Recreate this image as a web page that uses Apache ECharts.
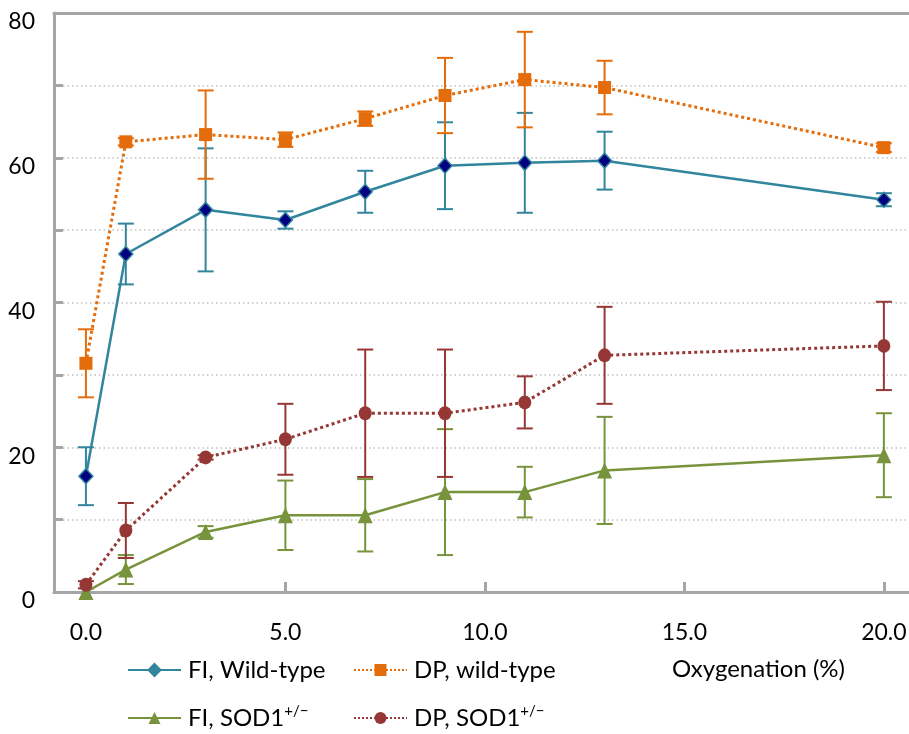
<!DOCTYPE html>
<html>
<head>
<meta charset="utf-8">
<title>Oxygenation response</title>
<script src="https://cdn.jsdelivr.net/npm/echarts@6/dist/echarts.min.js"></script>
<style>
  html, body { margin: 0; padding: 0; background: #fff; }
  #chart { width: 909px; height: 734px; }
</style>
</head>
<body>
<div id="chart"></div>
<script>
// Oxygenation levels (%) at which each group was measured
const oxygen = [0, 1, 3, 5, 7, 9, 11, 13, 20];

// Means and ± error for each group
const fiWild    = [16.0, 46.7, 52.8, 51.4, 55.3, 58.9, 59.3, 59.6, 54.2];
const fiWildErr = [4.0, 4.2, 8.5, 1.2, 2.9, 6.0, 6.9, 4.0, 0.9];

const dpWild    = [31.6, 62.2, 63.2, 62.5, 65.4, 68.6, 70.8, 69.7, 61.4];
const dpWildErr = [4.7, 0.5, 6.1, 1.0, 1.0, 5.2, 6.6, 3.7, 0.6];

const fiSod     = [0.0, 3.1, 8.3, 10.6, 10.6, 13.8, 13.8, 16.8, 18.9];
const fiSodErr  = [0, 2.0, 0.8, 4.8, 5.0, 8.7, 3.5, 7.4, 5.8];

const dpSod     = [1.0, 8.5, 18.6, 21.1, 24.7, 24.7, 26.2, 32.7, 34.0];
const dpSodErr  = [0.5, 3.8, 0.3, 4.9, 8.8, 8.8, 3.6, 6.7, 6.1];

// Axis ticks and labels
const xTicks = [0, 5, 10, 15, 20];
const yLabels = [0, 20, 40, 60, 80];

const SERIES_NAMES = {
  fiWild: 'FI, Wild-type',
  dpWild: 'DP, wild-type',
  fiSod: 'FI, SOD1+/−',
  dpSod: 'DP, SOD1+/−'
};

const FONT = 'Lato';
const AXIS_GREY = '#A6A6A6';
const C_TEAL = '#31859C';
const C_ORANGE = '#E46C0A';
const C_GREEN = '#77933C';
const C_RED = '#953735';

function points(values) {
  return oxygen.map((x, i) => [x, values[i]]);
}
function ranges(values, errs) {
  return oxygen.map((x, i) => [x, values[i] - errs[i], values[i] + errs[i]])
    .filter((d, i) => errs[i] > 0);
}

// Vertical error bar with caps, positioned through the grid's coordinate system
function errorBarRenderer(color) {
  return function (params, api) {
    const x = api.value(0);
    const top = api.coord([x, api.value(2)]);
    const bot = api.coord([x, api.value(1)]);
    const half = 8;
    const style = { stroke: color, lineWidth: 2 };
    return {
      type: 'group',
      children: [
        { type: 'line', shape: { x1: top[0], y1: top[1], x2: bot[0], y2: bot[1] }, style },
        { type: 'line', shape: { x1: top[0] - half, y1: top[1], x2: top[0] + half, y2: top[1] }, style },
        { type: 'line', shape: { x1: bot[0] - half, y1: bot[1], x2: bot[0] + half, y2: bot[1] }, style }
      ]
    };
  };
}

function errorSeries(values, errs, color) {
  return {
    type: 'custom',
    renderItem: errorBarRenderer(color),
    data: ranges(values, errs),
    encode: { x: 0, y: [1, 2] },
    z: 1,
    silent: true
  };
}

const legendText = {
  fontFamily: FONT,
  fontSize: 24,
  color: '#000',
  lineHeight: 28,
  padding: [0, 0, 0, 2],
  rich: {
    sup: { fontFamily: FONT, fontSize: 15, lineHeight: 15, verticalAlign: 'top', color: '#000' }
  }
};
function legendAt(name, left, top, itemStyle) {
  const item = { name: name };
  if (itemStyle) item.itemStyle = itemStyle;
  return {
    data: [item],
    left: left,
    top: top,
    itemWidth: 53,
    itemHeight: 15,
    textStyle: legendText,
    formatter: n => n.replace('+/−', '{sup|+/−}'),
    selectedMode: false
  };
}

const chart = echarts.init(document.getElementById('chart'), null, { renderer: 'canvas' });

chart.setOption({
  animation: false,
  backgroundColor: '#fff',
  title: {
    text: 'Oxygenation (%)',
    left: 672,
    top: 657,
    padding: 0,
    textStyle: { fontFamily: FONT, fontSize: 24, fontWeight: 'normal', color: '#000' }
  },
  legend: [
    legendAt(SERIES_NAMES.fiWild, 122, 651, { color: C_TEAL, borderColor: C_TEAL }),
    legendAt(SERIES_NAMES.dpWild, 348, 651),
    legendAt(SERIES_NAMES.fiSod, 122, 699),
    legendAt(SERIES_NAMES.dpSod, 348, 699)
  ],
  grid: {
    left: 54, right: 0, top: 13, bottom: 142,
    outerBoundsMode: 'none'
  },
  xAxis: [
    {
      type: 'value',
      min: -0.8,
      max: 20.63,
      axisLine: { show: true, onZero: false, lineStyle: { color: AXIS_GREY, width: 3 } },
      axisTick: {
        show: true, inside: true, length: 10,
        customValues: xTicks,
        lineStyle: { color: AXIS_GREY, width: 3 }
      },
      axisLabel: {
        customValues: xTicks,
        formatter: v => v.toFixed(1),
        fontFamily: FONT, fontSize: 23, color: '#000', margin: 29
      },
      splitLine: { show: false }
    },
    {
      // top frame line
      type: 'value',
      position: 'top',
      min: -0.8,
      max: 20.63,
      axisLine: { show: true, onZero: false, lineStyle: { color: AXIS_GREY, width: 3 } },
      axisTick: { show: false },
      axisLabel: { show: false },
      splitLine: { show: false }
    }
  ],
  yAxis: {
    type: 'value',
    min: 0,
    max: 80,
    interval: 10,
    axisLine: { show: true, onZero: false, lineStyle: { color: AXIS_GREY, width: 3 } },
    axisTick: { show: true, inside: true, length: 9, lineStyle: { color: AXIS_GREY, width: 3 } },
    axisLabel: {
      customValues: yLabels,
      fontFamily: FONT, fontSize: 23, color: '#000', margin: 19,
      verticalAlign: 'top',
      lineHeight: 18
    },
    splitLine: { show: true, lineStyle: { color: '#BFBFBF', width: 1.5, type: [1.5, 3] } }
  },
  series: [
    errorSeries(fiWild, fiWildErr, C_TEAL),
    errorSeries(dpWild, dpWildErr, C_ORANGE),
    errorSeries(fiSod, fiSodErr, C_GREEN),
    errorSeries(dpSod, dpSodErr, C_RED),
    {
      name: SERIES_NAMES.fiSod,
      type: 'line',
      data: points(fiSod),
      symbol: 'triangle',
      symbolSize: [15, 16],
      lineStyle: { color: C_GREEN, width: 2.5 },
      itemStyle: { color: C_GREEN },
      z: 3
    },
    {
      name: SERIES_NAMES.dpSod,
      type: 'line',
      data: points(dpSod),
      symbol: 'circle',
      symbolSize: [13, 14],
      lineStyle: { color: C_RED, width: 3, type: 'dotted' },
      itemStyle: { color: C_RED },
      z: 3
    },
    {
      name: SERIES_NAMES.fiWild,
      type: 'line',
      data: points(fiWild),
      symbol: 'diamond',
      symbolSize: [14, 15],
      lineStyle: { color: C_TEAL, width: 2.5 },
      itemStyle: { color: '#000080', borderColor: C_TEAL, borderWidth: 1.5 },
      z: 3
    },
    {
      name: SERIES_NAMES.dpWild,
      type: 'line',
      data: points(dpWild),
      symbol: 'rect',
      symbolSize: 13,
      lineStyle: { color: C_ORANGE, width: 3, type: 'dotted' },
      itemStyle: { color: C_ORANGE },
      z: 3
    }
  ]
});
</script>
</body>
</html>
